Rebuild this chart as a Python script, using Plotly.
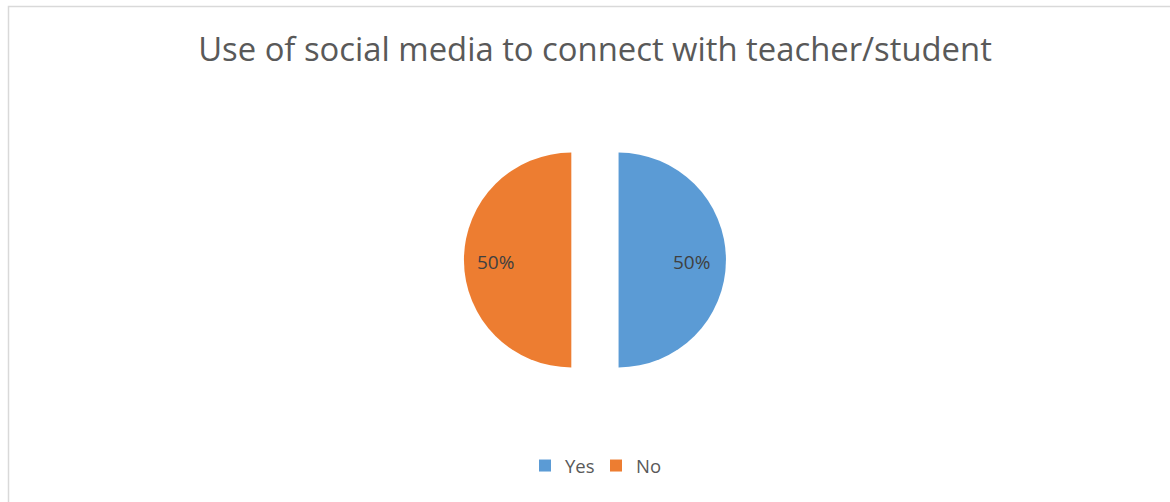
import plotly.graph_objects as go

labels = ["Yes", "No"]
values = [50, 50]
colors = ["#5B9BD5", "#ED7D31"]
title_text = "Use of social media to connect with teacher/student"

W, H = 1170, 502
total = sum(values)
pct_text = [f"{v / total:.0%}" for v in values]

fig = go.Figure(go.Pie(
    labels=labels,
    values=values,
    marker=dict(colors=colors, line=dict(width=0)),
    sort=False,
    direction="clockwise",
    rotation=0,
    pull=[0.22, 0.22],
    textinfo="none",
    domain=dict(x=[0.30, 0.717], y=[1 - 391 / H, 1 - 129 / H]),
    showlegend=True,
    hoverinfo="label+percent",
))

# percentage labels placed near the outer part of each slice (Excel best-fit style)
label_x = [691, 495]
annotations = [dict(x=lx / W, y=1 - 262 / H, xref="paper", yref="paper", text=t, showarrow=False,
                    xanchor="center", yanchor="middle",
                    font=dict(family="Open Sans", size=19, color="#404040"))
               for lx, t in zip(label_x, pct_text)]

fig.update_layout(
    width=W, height=H,
    margin=dict(l=0, r=0, t=0, b=0),
    paper_bgcolor="white",
    plot_bgcolor="white",
    title=dict(text=title_text, x=595 / W, xanchor="center", y=1 - 50 / H, yanchor="middle",
               font=dict(family="Open Sans", size=32.8, color="#595959")),
    legend=dict(orientation="h", x=596 / W, xanchor="center", y=1 - 466 / H, yanchor="middle",
                font=dict(family="Open Sans", size=18.5, color="#595959"), traceorder="normal",
                itemwidth=30, entrywidth=26, entrywidthmode="pixels"),
    annotations=annotations,
    shapes=[dict(type="rect", xref="paper", yref="paper",
                 x0=8.5 / W, x1=1 + 10 / W, y0=-10 / H, y1=1 - 6.5 / H,
                 line=dict(color="#D9D9D9", width=1.5), fillcolor="rgba(0,0,0,0)", layer="below")],
)

fig.write_html("out.html")
